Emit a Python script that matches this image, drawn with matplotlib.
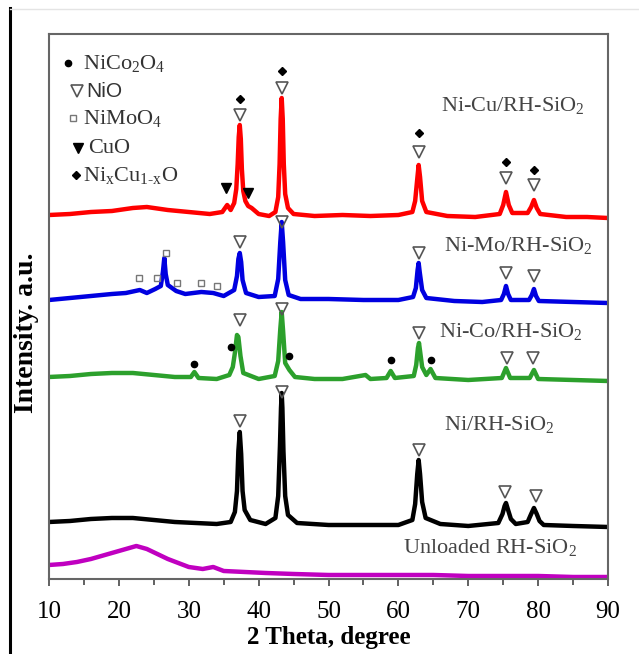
import matplotlib
matplotlib.use('Agg')
import matplotlib.pyplot as plt
from matplotlib.lines import Line2D

plt.rcParams['font.family'] = ['Liberation Serif', 'DejaVu Serif']
plt.rcParams['mathtext.fontset'] = 'custom'
plt.rcParams['mathtext.rm'] = 'Liberation Serif'
plt.rcParams['mathtext.it'] = 'Liberation Serif:italic'

# XRD patterns (2 theta in degree, intensity in a.u.)
theta_cu = [10, 13, 16, 19, 22, 24, 27, 30, 33, 34.8, 35.5, 36.0, 36.5, 36.8, 37.0, 37.15, 37.3,
            37.45, 37.6, 37.8, 38.1, 38.5, 39.0, 40, 41.5, 42.4, 42.8, 43.0, 43.15, 43.3, 43.45,
            43.6, 43.8, 44.2, 45, 48, 52, 56, 60, 62.0, 62.4, 62.7, 62.9, 63.1, 63.4, 64.0,
            67, 71, 74.5, 75.0, 75.4, 75.8, 76.3, 78.5, 79.0, 79.4, 79.8, 80.3, 84, 87, 90]
int_cu = [4, 5, 7, 8, 11, 12, 9, 7, 5, 7, 14, 9, 16, 30, 55, 82, 94,
          80, 50, 28, 18, 13, 11, 5, 3, 7, 22, 55, 100, 121, 100,
          55, 25, 11, 5, 3, 4, 3, 4, 7, 18, 40, 54, 42, 18, 7,
          3, 2, 5, 14, 27, 14, 6, 6, 12, 19, 11, 5, 2, 2, 1]

theta_mo = [10, 13, 16, 19, 21, 23.0, 24, 25.2, 26.0, 26.3, 26.5, 26.7, 27.0, 28.2, 29.5, 31.8,
            33.5, 35, 36.5, 36.9, 37.1, 37.3, 37.5, 37.7, 38.2, 40, 42.3, 42.8, 43.1, 43.3,
            43.5, 43.8, 44.3, 46, 50, 55, 60, 62.1, 62.5, 62.75, 62.9, 63.05, 63.4, 64.0,
            68, 72, 74.7, 75.1, 75.4, 75.7, 76.1, 78.7, 79.1, 79.4, 79.7, 80.1, 85, 90]
int_mo = [4, 6, 8, 10, 11, 14, 11, 15, 18, 32, 46, 30, 19, 13, 10, 12,
          11, 8, 14, 28, 45, 51, 42, 24, 11, 7, 8, 25, 62, 82,
          62, 24, 9, 5, 5, 4, 4, 7, 16, 34, 41, 32, 14, 6,
          3, 2, 4, 10, 18, 10, 4, 4, 9, 15, 8, 3, 2, 1]

theta_co = [10, 13, 16, 19, 22, 25, 28, 30.3, 30.8, 31.4, 34, 35.8, 36.3, 36.6, 36.9, 37.1,
            37.4, 37.8, 40, 42.3, 42.8, 43.1, 43.3, 43.5, 43.8, 44.4, 45.2, 48, 52, 55.3, 56,
            58.3, 58.9, 59.5, 62.2, 62.55, 62.8, 62.95, 63.1, 63.4, 64.0, 64.6, 65.3, 70,
            74.8, 75.4, 76.0, 78.8, 79.4, 80.0, 85, 90]
int_co = [4, 5, 7, 8, 8, 6, 4, 4, 9, 3, 2, 6, 14, 28, 46, 44,
          25, 8, 2, 5, 20, 52, 69, 50, 18, 11, 4, 2, 2, 6, 2,
          3, 10, 3, 5, 16, 33, 38, 30, 14, 6, 12, 3, 1,
          3, 13, 3, 3, 11, 2, 1, 0]

theta_ni = [10, 13, 16, 19, 22, 25, 28, 31, 34, 36.0, 36.6, 36.9, 37.1, 37.3, 37.5, 37.7,
            38.0, 38.8, 41, 42.4, 42.8, 43.05, 43.2, 43.3, 43.4, 43.55, 43.8, 44.2, 45.5,
            50, 55, 60, 62.0, 62.4, 62.7, 62.9, 63.1, 63.4, 63.9, 66, 70, 74.3, 74.9,
            75.2, 75.4, 75.7, 76.1, 76.8, 78.5, 79.0, 79.4, 79.8, 80.2, 80.8, 85, 90]
int_ni = [4, 5, 7, 8, 8, 6, 4, 3, 2, 4, 14, 35, 75, 94, 72, 35,
          16, 6, 2, 8, 30, 80, 118, 133, 118, 75, 30, 11, 3,
          1, 1, 1, 6, 22, 52, 66, 52, 24, 8, 2, 0, 3, 12,
          20, 23, 16, 7, 2, 4, 12, 18, 12, 5, 1, 0, -1]

theta_un = [10, 12, 14, 16, 18, 20, 21.5, 22.5, 24, 25.5, 27, 28.5, 30, 32, 33.5, 35,
            38, 41, 45, 50, 55, 60, 65, 70, 75, 80, 85, 90]
int_un = [14, 15, 17, 20, 24, 28, 31, 33, 30, 25, 20, 16, 12, 10, 12, 8,
          7, 6, 5, 4, 4, 4, 4, 3, 3, 3, 2, 2]

# peak assignments (2 theta)
nio_cu = [37.3, 43.3, 62.9, 75.4, 79.4]
nicuo_cu = [37.3, 43.3, 62.9, 75.4, 79.4]
cuo_cu = [35.3, 38.5]
nimoo4_mo = [22.9, 25.5, 26.8, 28.3, 31.8, 34.1]
nio_mo = [37.3, 43.3, 62.9, 75.4, 79.4]
nico2o4_co = [30.8, 36.1, 44.3, 58.9, 64.6]
nio_co = [37.3, 43.3, 62.9, 75.5, 79.3]
nio_ni = [37.3, 43.3, 62.9, 75.2, 79.7]

fig = plt.figure(figsize=(6.39, 6.54), dpi=100)
ax = fig.add_axes([0.0767, 0.1147, 0.8748, 0.8333])

# vertical stacking of the patterns
off_cu, off_mo, off_co, off_ni, off_un = 360, 275, 198, 53, 0
lw = 3.2
ax.plot(theta_un, [v + off_un for v in int_un], color='#c000c0', lw=lw)
ax.plot(theta_ni, [v + off_ni for v in int_ni], color='black', lw=lw)
ax.plot(theta_co, [v + off_co for v in int_co], color='#2ca02c', lw=lw)
ax.plot(theta_mo, [v + off_mo for v in int_mo], color='#0000e0', lw=lw)
ax.plot(theta_cu, [v + off_cu for v in int_cu], color='#ff0000', lw=lw)

tri = dict(marker='v', ms=8, mfc='none', mec='#555555', mew=1.2, ls='none')
dot = dict(marker='o', ms=4.5, color='black', ls='none')
dia = dict(marker='D', ms=4.5, color='black', ls='none')
sq = dict(marker='s', ms=4, mfc='none', mec='#777777', mew=1.0, ls='none')
cuo = dict(marker='v', ms=7, color='black', ls='none')

ax.plot(nio_cu, [464, 491, 427, 401, 394], **tri)
ax.plot(nicuo_cu, [480, 508, 446, 417, 409], **dia)
ax.plot(cuo_cu, [391, 386], **cuo)
ax.plot(nimoo4_mo, [301, 301, 326, 296, 296, 293], **sq)
ax.plot(nio_mo, [337, 357, 326, 306, 303], **tri)
ax.plot(nico2o4_co, [215, 232, 223, 219, 219], **dot)
ax.plot(nio_co, [259, 270, 246, 221, 221], **tri)
ax.plot(nio_ni, [158, 187, 129, 87, 83], **tri)

# legend drawn by hand as in the original
ax.plot([12.7], [516], **dot)
ax.plot([14.0], [488], **tri)
ax.plot([13.4], [461], **sq)
ax.plot([14.2], [431], **cuo)
ax.plot([13.9], [404], **dia)
leg_c = '#333333'
ax.text(14.9, 516, 'NiCo$_2$O$_4$', fontsize=16, va='center', color=leg_c)
ax.text(15.3, 488, 'NiO', fontsize=15, va='center', color=leg_c, family='Liberation Sans')
ax.text(14.9, 461, 'NiMoO$_4$', fontsize=16, va='center', color=leg_c)
ax.text(15.6, 431, 'CuO', fontsize=16, va='center', color=leg_c)
ax.text(14.9, 404, 'Ni$_\\mathrm{x}$Cu$_{\\text{1-x}}$O', fontsize=16, va='center', color=leg_c)

lab_c = '#444444'
ax.text(66.1, 474, 'Ni-Cu/RH-SiO$_2$', fontsize=16, va='center', color=lab_c)
ax.text(66.5, 333, 'Ni-Mo/RH-SiO$_2$', fontsize=16, va='center', color=lab_c)
ax.text(65.8, 247, 'Ni-Co/RH-SiO$_2$', fontsize=16, va='center', color=lab_c)
ax.text(66.5, 154, 'Ni/RH-SiO$_2$', fontsize=16, va='center', color=lab_c)
ax.text(60.6, 31, 'Unloaded RH-SiO$_2$', fontsize=16, va='center', color=lab_c)

ax.set_xlim(10, 90)
ax.set_ylim(0, 545)
ax.set_xticks(range(10, 91, 10))
ax.set_xticks(range(15, 90, 10), minor=True)
ax.set_yticks([])
ax.tick_params(axis='x', which='major', direction='out', length=5, width=1.3,
               labelsize=18, pad=11, color='#555555')
ax.tick_params(axis='x', which='minor', direction='out', length=4, width=1.3, color='#555555')
for sp in ax.spines.values():
    sp.set_color('#666666')
    sp.set_linewidth(1.5)
ax.set_xlabel('2 Theta, degree', fontsize=18, fontweight='bold', labelpad=2)
fig.text(27 / 639, 1 - 333 / 654, 'Intensity. a.u.', rotation=90, fontsize=20,
         fontweight='bold', ha='center', va='center')

# page border pieces visible in the scan
fig.add_artist(Line2D([10 / 639, 10 / 639], [0, 1 - 8 / 654], color='black', lw=2.2))
fig.add_artist(Line2D([10 / 639, 1], [1 - 9 / 654, 1 - 9 / 654], color='#e4e4e4', lw=1))

fig.savefig('out.png', dpi=100)
